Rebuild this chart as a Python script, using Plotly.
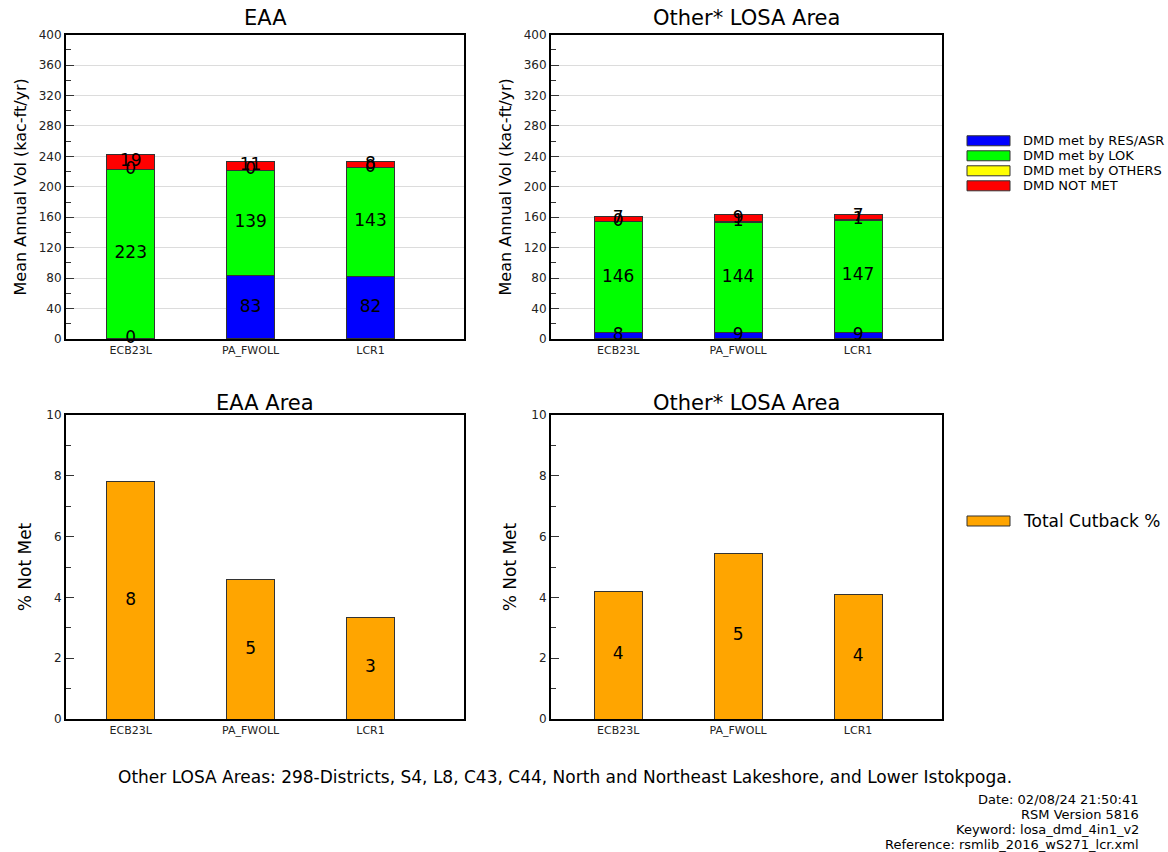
import plotly.graph_objects as go

# Model runs shown on every panel
runs = ["ECB23L", "PA_FWOLL", "LCR1"]

# Mean annual demand volumes (kac-ft/yr), EAA
eaa_res = [0, 83, 82]
eaa_lok = [223, 139, 143]
eaa_oth = [0, 0, 0]
eaa_notmet = [19, 11, 8]

# Mean annual demand volumes (kac-ft/yr), other LOSA areas
losa_res = [8, 9, 9]
losa_lok = [146, 144, 147]
losa_oth = [0, 1, 1]
losa_notmet = [7, 9, 7]

# Total cutback percentages
eaa_cut = [7.8, 4.58, 3.35]
losa_cut = [4.2, 5.45, 4.1]

series_names = ["DMD met by RES/ASR", "DMD met by LOK", "DMD met by OTHERS", "DMD NOT MET"]
series_colors = ["#0000FF", "#00FF00", "#FFFF00", "#FF0000"]
cut_name = "Total Cutback %"
cut_color = "#FFA500"

FONT = "DejaVu Sans"
W, H = 1168, 852


def px_x(v):
    return v / W


def px_y(v):
    # pixel row (from top of page) -> paper fraction, allowing for the rendered plot area
    return 1 - ((v - 7.3) / 0.983) / H


fig = go.Figure()


def add_stack(xa, ya, groups):
    base = [0.0] * len(runs)
    mids_x, mids_y, mids_t = [], [], []
    for vals, name, col in zip(groups, series_names, series_colors):
        fig.add_trace(go.Bar(
            x=runs, y=vals, name=name, marker=dict(color=col, line=dict(color="#333333", width=1)),
            width=0.4, xaxis=xa, yaxis=ya, showlegend=False, hoverinfo="y",
        ))
        for i, v in enumerate(vals):
            mids_x.append(runs[i])
            mids_y.append(base[i] + v / 2)
            mids_t.append(str(int(round(v))))
            base[i] += v
    fig.add_trace(go.Scatter(
        x=mids_x, y=mids_y, text=mids_t, mode="text", xaxis=xa, yaxis=ya,
        textfont=dict(family=FONT, size=17, color="black"), showlegend=False, hoverinfo="skip",
        cliponaxis=False,
    ))


def add_cut(xa, ya, vals):
    fig.add_trace(go.Bar(
        x=runs, y=vals, name=cut_name, marker=dict(color=cut_color, line=dict(color="#333333", width=1)),
        width=0.4, xaxis=xa, yaxis=ya, showlegend=False,
    ))
    fig.add_trace(go.Scatter(
        x=runs, y=[v / 2 for v in vals], text=[str(int(round(v))) for v in vals], mode="text",
        xaxis=xa, yaxis=ya, textfont=dict(family=FONT, size=17, color="black"),
        showlegend=False, hoverinfo="skip",
    ))


add_stack("x", "y", [eaa_res, eaa_lok, eaa_oth, eaa_notmet])
add_stack("x2", "y2", [losa_res, losa_lok, losa_oth, losa_notmet])
add_cut("x3", "y3", eaa_cut)
add_cut("x4", "y4", losa_cut)

left_dom = [px_x(66), px_x(464)]
right_dom = [px_x(551), px_x(942)]
top_dom = [px_y(339), px_y(35)]
bot_dom = [px_y(719), px_y(415)]

xcommon = dict(type="category", showline=True, linecolor="black", linewidth=2, mirror=True,
               ticks="", showgrid=False, tickfont=dict(family=FONT, size=11, color="#222"), zeroline=False)
ycommon = dict(showline=True, linecolor="black", linewidth=2, mirror=True, ticks="inside",
               ticklen=8, tickwidth=1, tickcolor="#333", zeroline=False,
               tickfont=dict(family=FONT, size=12, color="#222"))

left_range = [-0.54, 2.78]
right_range = [-0.56, 2.7]

title_font = dict(family=FONT, size=16, color="black")

fig.update_layout(
    xaxis=dict(domain=left_dom, anchor="y", range=left_range, **xcommon),
    xaxis2=dict(domain=right_dom, anchor="y2", range=right_range, **xcommon),
    xaxis3=dict(domain=left_dom, anchor="y3", range=left_range, **xcommon),
    xaxis4=dict(domain=right_dom, anchor="y4", range=right_range, **xcommon),
    yaxis=dict(domain=top_dom, anchor="x", range=[0, 400], dtick=40, showgrid=True, gridcolor="#dcdcdc",
               minor=dict(dtick=20, ticks="inside", ticklen=5, tickcolor="#333"),
               title=dict(text="Mean Annual Vol (kac-ft/yr)", font=title_font, standoff=8),
               **ycommon),
    yaxis2=dict(domain=top_dom, anchor="x2", range=[0, 400], dtick=40, showgrid=True, gridcolor="#dcdcdc",
                minor=dict(dtick=20, ticks="inside", ticklen=5, tickcolor="#333"),
                title=dict(text="Mean Annual Vol (kac-ft/yr)", font=title_font, standoff=8),
                **ycommon),
    yaxis3=dict(domain=bot_dom, anchor="x3", range=[0, 10], dtick=2, showgrid=False,
                minor=dict(dtick=1, ticks="inside", ticklen=5, tickcolor="#333"),
                title=dict(text="% Not Met", font=dict(family=FONT, size=17, color="black"), standoff=10),
                **ycommon),
    yaxis4=dict(domain=bot_dom, anchor="x4", range=[0, 10], dtick=2, showgrid=False,
                minor=dict(dtick=1, ticks="inside", ticklen=5, tickcolor="#333"),
                title=dict(text="% Not Met", font=dict(family=FONT, size=17, color="black"), standoff=10),
                **ycommon),
    barmode="stack",
    width=W, height=H,
    margin=dict(l=0, r=0, t=0, b=0),
    paper_bgcolor="white", plot_bgcolor="white",
    font=dict(family=FONT, color="black"),
    showlegend=False,
)

annotations = []
shapes = []

# Panel titles
for text, xc, yc in [("EAA", (66 + 464) / 2, 18), ("Other* LOSA Area", (551 + 942) / 2, 18),
                     ("EAA Area", (66 + 464) / 2, 403), ("Other* LOSA Area", (551 + 942) / 2, 403)]:
    annotations.append(dict(text=text, x=px_x(xc), y=px_y(yc), xref="paper", yref="paper",
                            showarrow=False, font=dict(family=FONT, size=21, color="black"),
                            xanchor="center", yanchor="middle"))

# Legend for the stacked volumes
for i, (name, col) in enumerate(zip(series_names, series_colors)):
    yc = 141 + i * 15
    shapes.append(dict(type="rect", xref="paper", yref="paper", x0=px_x(967), x1=px_x(1010),
                       y0=px_y(yc + 5), y1=px_y(yc - 5), fillcolor=col, line=dict(color="#333", width=1)))
    annotations.append(dict(text=name, x=px_x(1021), y=px_y(yc), xref="paper", yref="paper",
                            showarrow=False, xanchor="left", yanchor="middle",
                            font=dict(family=FONT, size=13, color="black")))

# Legend for the cutback bars
shapes.append(dict(type="rect", xref="paper", yref="paper", x0=px_x(967), x1=px_x(1010),
                   y0=px_y(526), y1=px_y(516), fillcolor=cut_color, line=dict(color="#333", width=1)))
annotations.append(dict(text=cut_name, x=px_x(1021), y=px_y(521), xref="paper", yref="paper",
                        showarrow=False, xanchor="left", yanchor="middle",
                        font=dict(family=FONT, size=17, color="black")))

# Footer notes
annotations.append(dict(
    text="Other LOSA Areas: 298-Districts, S4, L8, C43, C44, North and Northeast Lakeshore, and Lower Istokpoga.",
    x=px_x(565), y=px_y(777), xref="paper", yref="paper", showarrow=False,
    xanchor="center", yanchor="middle", font=dict(family=FONT, size=17, color="black")))

footer_lines = ["Date: 02/08/24 21:50:41", "RSM Version 5816", "Keyword: losa_dmd_4in1_v2",
                "Reference: rsmlib_2016_wS271_lcr.xml"]
for i, line in enumerate(footer_lines):
    annotations.append(dict(text=line, x=px_x(1141), y=px_y(799 + i * 15), xref="paper", yref="paper",
                            showarrow=False, xanchor="right", yanchor="middle",
                            font=dict(family=FONT, size=13, color="black")))

fig.update_layout(annotations=annotations, shapes=shapes)

fig.write_html("out.html")
